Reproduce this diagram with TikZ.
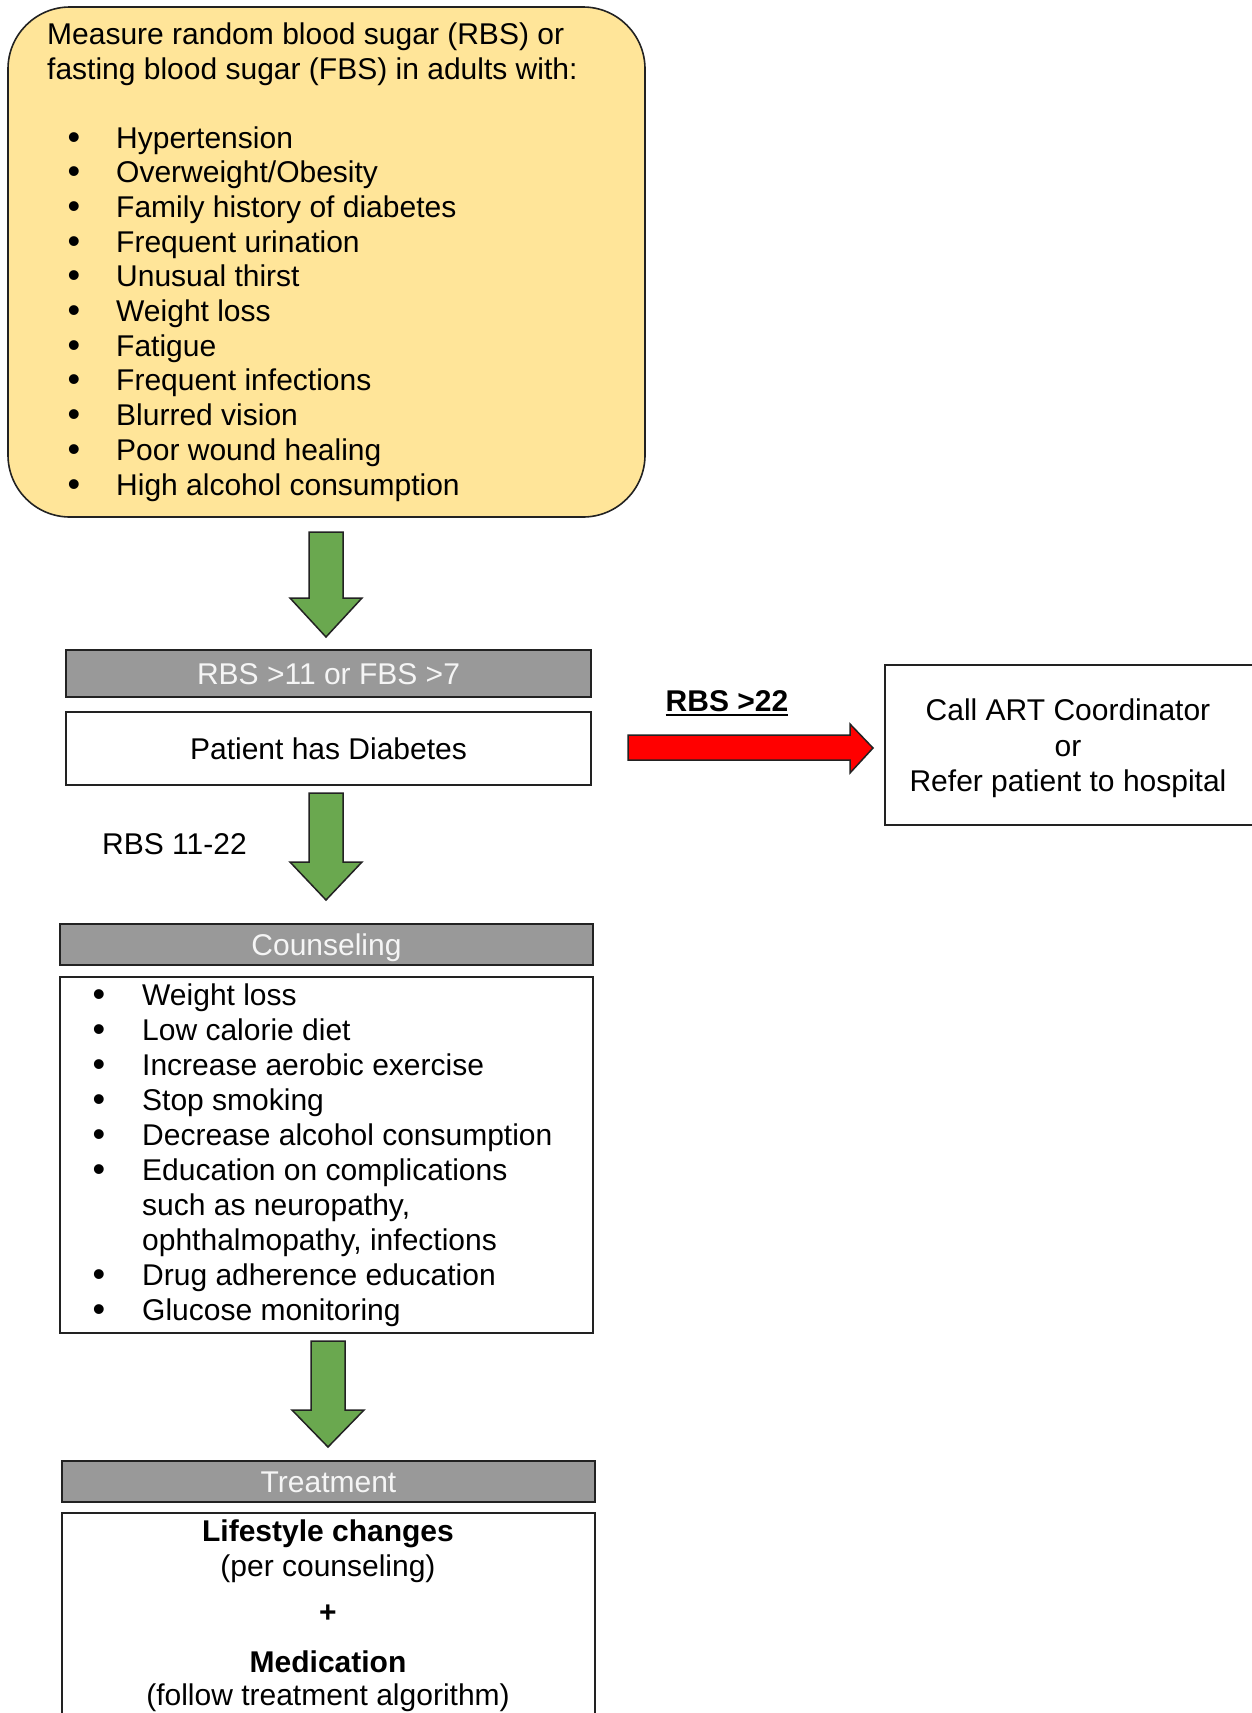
\documentclass[tikz,border=0pt]{standalone}
\usepackage{fontspec}
\setmainfont{Liberation Sans}
\definecolor{boxyellow}{HTML}{FFE599}
\definecolor{headgray}{HTML}{999999}
\definecolor{arrowgreen}{HTML}{6AA84F}
\definecolor{arrowred}{HTML}{FF0000}
\definecolor{linedark}{HTML}{222222}
\newcommand\gdownarrow[4]{%
  \draw[garrow] ({#1-17},#2) -- ({#1+17},#2) -- ({#1+17},#3) -- ({#1+36},#3)
    -- (#1,#4) -- ({#1-36},#3) -- ({#1-17},#3) -- cycle;}
\begin{document}
\begin{tikzpicture}[x=1pt,y=-1pt,
  font=\fontsize{30}{35}\selectfont,
  box/.style={draw=linedark, line width=1.6pt, rectangle, inner sep=0pt,
    text height=21.5pt, text depth=0pt},
  graybox/.style={box, fill=headgray, text=gray!8},
  txt/.style={anchor=base west, inner sep=0pt},
  ctxt/.style={anchor=base, inner sep=0pt},
  bul/.style={anchor=base, inner sep=0pt, font=\fontsize{36}{36}\selectfont},
  garrow/.style={draw=linedark, line width=1.5pt, fill=arrowgreen, line join=miter},
  rarrow/.style={draw=linedark, line width=1.5pt, fill=arrowred, line join=miter}]
\clip (0,0) rectangle (1252,1713);
\fill[white] (0,0) rectangle (1252,1713);

% top rounded box
\node[box, fill=boxyellow, rounded corners=62pt, minimum width=637pt, minimum height=510pt] (screen) at (326.5,262) {};
\node[txt] (m1) at (47,44) {Measure random blood sugar (RBS) or};
\node[txt] (m2) at (47,79) {fasting blood sugar (FBS) in adults with:};
\foreach [count=\i] \t in {Hypertension, Overweight/Obesity, Family history of diabetes,
  Frequent urination, Unusual thirst, Weight loss, Fatigue, Frequent infections,
  Blurred vision, Poor wound healing, High alcohol consumption}{
  \node[bul] (sb\i) at (74,{149+34.7*(\i-1)}) {\textbullet};
  \node[txt] (s\i) at (116,{148+34.7*(\i-1)}) {\t};
}

\gdownarrow{326}{532}{598}{637}

% diagnosis
\node[graybox, minimum width=525pt, minimum height=47pt] (crit) at (328.5,673.5) {RBS >11 or FBS >7};
\node[box, minimum width=525pt, minimum height=73pt] (diab) at (328.5,748.5) {Patient has Diabetes};

% red arrow
\draw[rarrow] (628,735) -- (850,735) -- (850,724) -- (873,748) -- (850,773) -- (850,760) -- (628,760) -- cycle;
\node[ctxt, font=\fontsize{30}{35}\selectfont\bfseries] (l22) at (727,711) {RBS >22};
\draw[line width=2.4pt] ([yshift=-4pt]l22.base west) -- ([yshift=-4pt]l22.base east);

% referral box
\node[box, minimum width=377pt, minimum height=160pt] (refer) at (1073.5,745) {};
\node[ctxt] (r1) at (1068,720) {Call ART Coordinator};
\node[ctxt] (r2) at (1068,756) {or};
\node[ctxt] (r3) at (1068,791) {Refer patient to hospital};

\gdownarrow{326}{793}{862}{900}
\node[txt] (l1122) at (102,854) {RBS 11-22};

% counseling
\node[graybox, minimum width=533pt, minimum height=41pt] (counh) at (326.5,944.5) {Counseling};
\node[box, minimum width=533pt, minimum height=356pt] (counb) at (326.5,1155) {};
\foreach \t/\b [count=\i] in {Weight loss/1, Low calorie diet/1, Increase aerobic exercise/1,
  Stop smoking/1, Decrease alcohol consumption/1, Education on complications/1,
  {such as neuropathy,}/0, {ophthalmopathy, infections}/0, Drug adherence education/1,
  Glucose monitoring/1}{
  \ifnum\b=1 \node[bul] (cb\i) at (99,{1006+35*(\i-1)}) {\textbullet};\fi
  \node[txt] (c\i) at (142,{1005+35*(\i-1)}) {\t};
}

\gdownarrow{328}{1341}{1410}{1447}

% treatment
\node[graybox, minimum width=533pt, minimum height=41pt] (treath) at (328.5,1481.5) {Treatment};
\node[box, minimum width=533pt, minimum height=222pt] (treatb) at (328.5,1624) {};
\node[ctxt, font=\fontsize{30}{35}\selectfont\bfseries] (t1) at (328,1541) {Lifestyle changes};
\node[ctxt] (t2) at (328,1576) {(per counseling)};
\node[ctxt, font=\fontsize{30}{35}\selectfont\bfseries] (t3) at (328,1622) {+};
\node[ctxt, font=\fontsize{30}{35}\selectfont\bfseries] (t4) at (328,1672) {Medication};
\node[ctxt] (t5) at (328,1705) {(follow treatment algorithm)};
\end{tikzpicture}
\end{document}
